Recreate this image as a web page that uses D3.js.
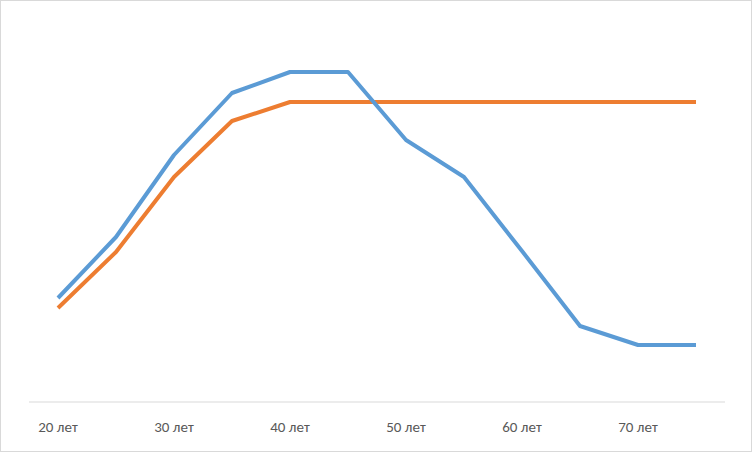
<!DOCTYPE html>
<html><head><meta charset="utf-8">
<script src="https://cdn.jsdelivr.net/npm/d3@7"></script>
<style>body{margin:0;background:#fff}</style></head>
<body><svg width="752" height="452"></svg>
<script>
const categories=["20 лет","25 лет","30 лет","35 лет","40 лет","45 лет","50 лет","55 лет","60 лет","65 лет","70 лет","75 лет"];
const tickLabels=["20 лет","30 лет","40 лет","50 лет","60 лет","70 лет"];
const seriesBlue=[104,165,247,309,330,330,262,225,151,76,57,57];
const seriesOrange=[94,150,225,281,300,300,300,300,300,300,300,300];
const svg=d3.select("svg");
svg.append("rect").attr("x",0.5).attr("y",0.5).attr("width",751).attr("height",451).attr("fill","#fff").attr("stroke","#d9d9d9");
const x=d3.scalePoint().domain(categories).range([29,725]).padding(0.5);
const y=d3.scaleLinear().domain([0,400]).range([402,2]);
svg.append("line").attr("x1",29).attr("x2",725).attr("y1",y(0)).attr("y2",y(0)).attr("stroke","#d9d9d9");
tickLabels.forEach(t=>svg.append("text").attr("x",x(t)).attr("y",432).attr("text-anchor","middle")
 .attr("font-family","Calibri, Carlito, 'Liberation Sans', sans-serif").attr("font-size",15).attr("fill","#595959").text(t));
const line=d3.line().x((d,i)=>x(categories[i])).y(d=>y(d));
[[seriesOrange,"#ED7D31"],[seriesBlue,"#5B9BD5"]].forEach(([s,c])=>
 svg.append("path").attr("d",line(s)).attr("fill","none").attr("stroke",c).attr("stroke-width",4).attr("stroke-linejoin","round"));
</script></body></html>
